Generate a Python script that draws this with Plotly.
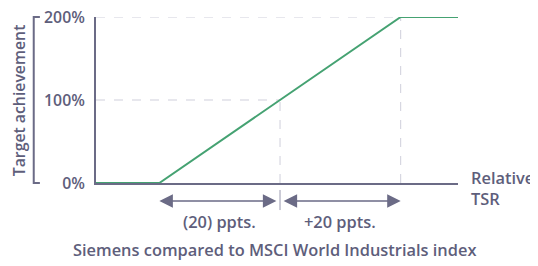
import plotly.graph_objects as go

# Data
tsr = [-30.5, -20, 20, 29.5]          # relative TSR (ppts)
achievement = [0, 0, 200, 200]        # target achievement (%)
ytick_vals = [0, 100, 200]
ytick_text = ["0%", "100%", "200%"]
lower_ppts, mid_ppts, upper_ppts = -20, 0, 20
range_labels = ["(20) ppts.", "+20 ppts."]
title = "Siemens compared to MSCI World Industrials index"
y_title = "Target achievement"
x_title = "Relative<br>TSR"

TXT = "#5e5e7b"
AX = "#6b6b86"
GRID = "#cfcfdb"
GREEN = "#45a272"
FONT = "Open Sans"
FS = 15.8
FS2 = 16.4
W = 600

fig = go.Figure()
fig.add_trace(go.Scatter(x=tsr, y=achievement, mode="lines",
                         line=dict(color=GREEN, width=2), cliponaxis=False,
                         hoverinfo="skip"))

shapes = []
# dashed reference lines
shapes.append(dict(type="line", xref="x", yref="y", x0=tsr[0], x1=mid_ppts, y0=100, y1=100,
                   line=dict(color=GRID, width=1, dash="dash"), layer="below"))
shapes.append(dict(type="line", xref="x", yref="y", x0=tsr[0], x1=upper_ppts, y0=200, y1=200,
                   line=dict(color=GRID, width=1, dash="dash"), layer="below"))
shapes.append(dict(type="line", xref="x", yref="y", x0=mid_ppts, x1=mid_ppts, y0=0, y1=100,
                   line=dict(color=GRID, width=1, dash="dash"), layer="below"))
shapes.append(dict(type="line", xref="x", yref="y", x0=upper_ppts, x1=upper_ppts, y0=0, y1=200,
                   line=dict(color=GRID, width=1, dash="dash"), layer="below"))
# centre tick below axis
shapes.append(dict(type="line", xref="x", yref="paper", x0=mid_ppts, x1=mid_ppts, y0=-0.042, y1=-0.163,
                   line=dict(color="#9a9ab0", width=1)))
# bracket at left
bx = -0.172
shapes.append(dict(type="path", xref="paper", yref="paper",
                   path=f"M {bx+0.017},1 L {bx},1 L {bx},0 L {bx+0.017},0",
                   line=dict(color=AX, width=2)))
fig.update_layout(shapes=shapes)

ann = []
arrow_y = -0.108
ann.append(dict(x=lower_ppts, y=arrow_y, ax=mid_ppts - 0.35, ay=0, xref="x", yref="paper",
                axref="x", ayref="pixel", text="", showarrow=True, arrowhead=2, arrowsize=1.8,
                arrowwidth=1.5, arrowcolor=AX, arrowside="end+start"))
ann.append(dict(x=upper_ppts, y=arrow_y, ax=mid_ppts + 0.35, ay=0, xref="x", yref="paper",
                axref="x", ayref="pixel", text="", showarrow=True, arrowhead=2, arrowsize=1.8,
                arrowwidth=1.5, arrowcolor=AX, arrowside="end+start"))
ann.append(dict(x=(lower_ppts + mid_ppts) / 2, y=-0.229, xref="x", yref="paper", text=range_labels[0],
                xanchor="center", yanchor="middle",
                showarrow=False, font=dict(size=FS2, color=TXT, family=FONT, weight=W)))
ann.append(dict(x=(upper_ppts + mid_ppts) / 2, y=-0.229, xref="x", yref="paper", text=range_labels[1],
                xanchor="center", yanchor="middle",
                showarrow=False, font=dict(size=FS2, color=TXT, family=FONT, weight=W)))
ann.append(dict(x=0.494, y=-0.398, xref="paper", yref="paper", text=title,
                xanchor="center", yanchor="middle",
                showarrow=False, font=dict(size=FS2, color=TXT, family=FONT, weight=W)))
ann.append(dict(x=1.03, y=-0.03, xref="paper", yref="paper", text=x_title, align="left",
                xanchor="left", yanchor="middle", showarrow=False,
                font=dict(size=FS2, color=TXT, family=FONT, weight=W)))
ann.append(dict(x=-0.212, y=0.5, xref="paper", yref="paper", text=y_title, textangle=-90,
                xanchor="center", yanchor="middle",
                showarrow=False, font=dict(size=FS, color=TXT, family=FONT, weight=W)))
fig.update_layout(annotations=ann)

fig.update_layout(
    width=530, height=258,
    margin=dict(l=88, r=80, t=9, b=83, autoexpand=False),
    paper_bgcolor="white", plot_bgcolor="white",
    showlegend=False,
    font=dict(family=FONT, color=TXT),
    xaxis=dict(range=[tsr[0], tsr[-1]], showgrid=False, zeroline=False, showticklabels=False,
               showline=True, linecolor=AX, linewidth=2, ticks="", automargin=False),
    yaxis=dict(range=[0, 200], tickvals=ytick_vals, ticktext=ytick_text, showgrid=False,
               zeroline=False, showline=True, linecolor=AX, linewidth=2,
               ticks="outside", ticklen=6, tickcolor="rgba(0,0,0,0)", automargin=False,
               ticklabeloverflow="allow",
               tickfont=dict(size=FS, color=TXT, family=FONT, weight=W)),
)

fig.write_html("out.html")
